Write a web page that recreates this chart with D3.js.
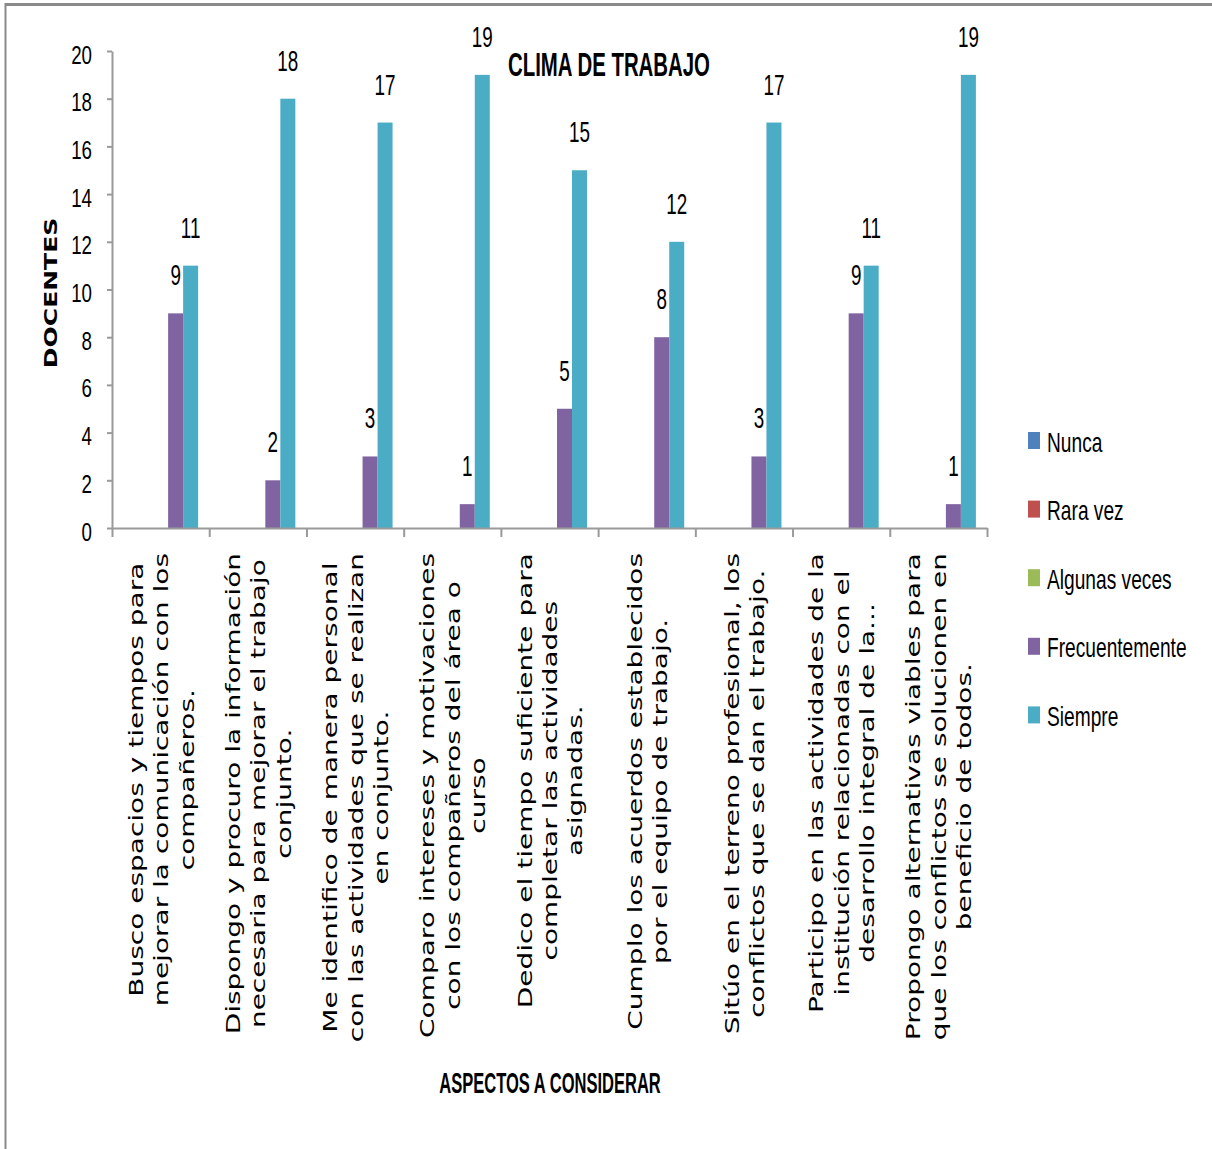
<!DOCTYPE html>
<html>
<head>
<meta charset="utf-8">
<script src="https://cdn.jsdelivr.net/npm/d3@7"></script>
<style>
  html, body { margin: 0; padding: 0; background: #fff; }
  svg { display: block; }
</style>
</head>
<body>
<svg id="chart" width="1212" height="1149"></svg>
<script>
// Survey items (one entry per item, split into the lines shown under the axis)
const categories = [
  ["Busco espacios y tiempos para", "mejorar la comunicación con los", "compañeros."],
  ["Dispongo y procuro la información", "necesaria para mejorar el trabajo", "conjunto."],
  ["Me identifico de manera personal", "con las actividades que se realizan", "en conjunto."],
  ["Comparo intereses y motivaciones", "con los compañeros del área o", "curso"],
  ["Dedico el tiempo suficiente para", "completar las actividades", "asignadas."],
  ["Cumplo los acuerdos establecidos", "por el equipo de trabajo."],
  ["Sitúo en el terreno profesional, los", "conflictos que se dan el trabajo."],
  ["Participo en las actividades de la", "institución relacionadas con el", "desarrollo integral de la..."],
  ["Propongo alternativas viables para", "que los conflictos se solucionen en", "beneficio de todos."]
];

const seriesNames = ["Nunca", "Rara vez", "Algunas veces", "Frecuentemente", "Siempre"];
const seriesColors = ["#4F81BD", "#C0504D", "#9BBB59", "#8064A2", "#4BACC6"];

// Number of teachers per answer
const nunca          = [0, 0, 0, 0, 0, 0, 0, 0, 0];
const raraVez        = [0, 0, 0, 0, 0, 0, 0, 0, 0];
const algunasVeces   = [0, 0, 0, 0, 0, 0, 0, 0, 0];
const frecuentemente = [9, 2, 3, 1, 5, 8, 3, 9, 1];
const siempre        = [11, 18, 17, 19, 15, 12, 17, 11, 19];

const yTicks = [0, 2, 4, 6, 8, 10, 12, 14, 16, 18, 20];

const chartTitle = "CLIMA DE TRABAJO";
const yTitle = "DOCENTES";
const xTitle = "ASPECTOS A CONSIDERAR";

const seriesValues = [nunca, raraVez, algunasVeces, frecuentemente, siempre];

const svg = d3.select("#chart");
const AXIS = "#9a9a9a";
const SANS = "'Liberation Sans', Arial, sans-serif";
const WIDE = "'DejaVu Sans', Verdana, sans-serif";

// outer frame
svg.append("line").attr("x1", 5).attr("x2", 1212).attr("y1", 4.5).attr("y2", 4.5)
  .attr("stroke", "#8a8a8a").attr("stroke-width", 3);
svg.append("line").attr("x1", 5.5).attr("x2", 5.5).attr("y1", 3).attr("y2", 1149)
  .attr("stroke", "#8a8a8a").attr("stroke-width", 2);

// scales
const plotLeft = 112, plotRight = 987, plotBottom = 528, plotTop = 51;
const x = d3.scaleBand().domain(d3.range(categories.length))
  .range([plotLeft, plotRight]).paddingInner(0).paddingOuter(0);
const xs = d3.scaleBand().domain(seriesNames)
  .range([0, x.bandwidth()]).paddingInner(0).paddingOuter(0.74);
const y = d3.scaleLinear().domain([0, 20]).range([plotBottom, plotTop]);
const xEdges = d3.scaleLinear().domain([0, categories.length]).range([plotLeft, plotRight]);

// bars
const barData = [];
seriesNames.forEach((s, si) => {
  seriesValues[si].forEach((v, ci) => barData.push({ s, si, ci, v }));
});

svg.append("g").selectAll("rect").data(barData).join("rect")
  .attr("x", d => x(d.ci) + xs(d.s))
  .attr("width", xs.bandwidth())
  .attr("y", d => y(d.v))
  .attr("height", d => y(0) - y(d.v))
  .attr("fill", d => seriesColors[d.si]);

// value labels
svg.append("g").selectAll("text").data(barData.filter(d => d.v > 0)).join("text")
  .attr("transform", d => `translate(${x(d.ci) + xs(d.s) + xs.bandwidth() / 2},${y(d.v) - 28}) scale(0.65,1)`)
  .attr("text-anchor", "middle")
  .style("font-family", SANS).style("font-size", "29px").attr("fill", "#000")
  .text(d => d.v);

// y axis
const yAxis = svg.append("g").attr("transform", `translate(${plotLeft},0)`)
  .call(d3.axisLeft(y).tickValues(yTicks).tickSize(5).tickSizeOuter(0));
yAxis.select(".domain").attr("stroke", AXIS).attr("stroke-width", 2);
yAxis.selectAll(".tick line").attr("stroke", AXIS).attr("stroke-width", 2);
yAxis.selectAll(".tick text")
  .attr("x", -20 / 0.72).attr("dy", null).attr("y", 12)
  .attr("transform", "scale(0.72,1)")
  .style("font-family", SANS).style("font-size", "26px").attr("fill", "#000");

// x axis (ticks on category boundaries)
const xAxis = svg.append("g").attr("transform", `translate(0,${plotBottom})`)
  .call(d3.axisBottom(xEdges).tickValues(d3.range(categories.length + 1))
    .tickFormat("").tickSize(9).tickSizeOuter(0));
xAxis.select(".domain").attr("stroke", AXIS).attr("stroke-width", 2);
xAxis.selectAll(".tick line").attr("stroke", AXIS).attr("stroke-width", 2);

// category labels, rotated and read bottom-to-top
const lineGap = 25.4;
categories.forEach((lines, ci) => {
  const cx = x(ci) + x.bandwidth() / 2;
  const g = svg.append("g")
    .attr("transform", `translate(${cx},553) rotate(-90) scale(1,0.7)`);
  const texts = g.selectAll("text").data(lines).join("text")
    .attr("text-anchor", "middle")
    .style("font-family", WIDE).style("font-size", "28px").attr("fill", "#000")
    .attr("y", (d, j) => (7.5 + (j - (lines.length - 1) / 2) * lineGap) / 0.7)
    .text(d => d);
  let maxLen = 0;
  texts.each(function () { maxLen = Math.max(maxLen, this.getComputedTextLength()); });
  texts.attr("x", -maxLen / 2);
});

// titles
svg.append("text")
  .attr("transform", "translate(609,76) scale(0.6,1)")
  .attr("text-anchor", "middle")
  .style("font-family", SANS).style("font-size", "34px").style("font-weight", "bold")
  .text(chartTitle);

svg.append("text")
  .attr("transform", "translate(550,1093) scale(0.57,1)")
  .attr("text-anchor", "middle")
  .style("font-family", SANS).style("font-size", "29px").style("font-weight", "bold")
  .text(xTitle);

svg.append("text")
  .attr("transform", "translate(57,293) rotate(-90) scale(1,0.7)")
  .attr("text-anchor", "middle")
  .style("font-family", WIDE).style("font-size", "25px").style("font-weight", "bold")
  .text(yTitle);

// legend
const legend = svg.append("g").selectAll("g").data(seriesNames).join("g")
  .attr("transform", (d, i) => `translate(1028,${440.5 + i * 68.6})`);
legend.append("rect")
  .attr("x", 0).attr("y", -8.5).attr("width", 12).attr("height", 17)
  .attr("fill", (d, i) => seriesColors[i]);
legend.append("text")
  .attr("transform", "translate(19,11) scale(0.71,1)")
  .style("font-family", SANS).style("font-size", "27px").attr("fill", "#000")
  .text(d => d);
</script>
</body>
</html>
